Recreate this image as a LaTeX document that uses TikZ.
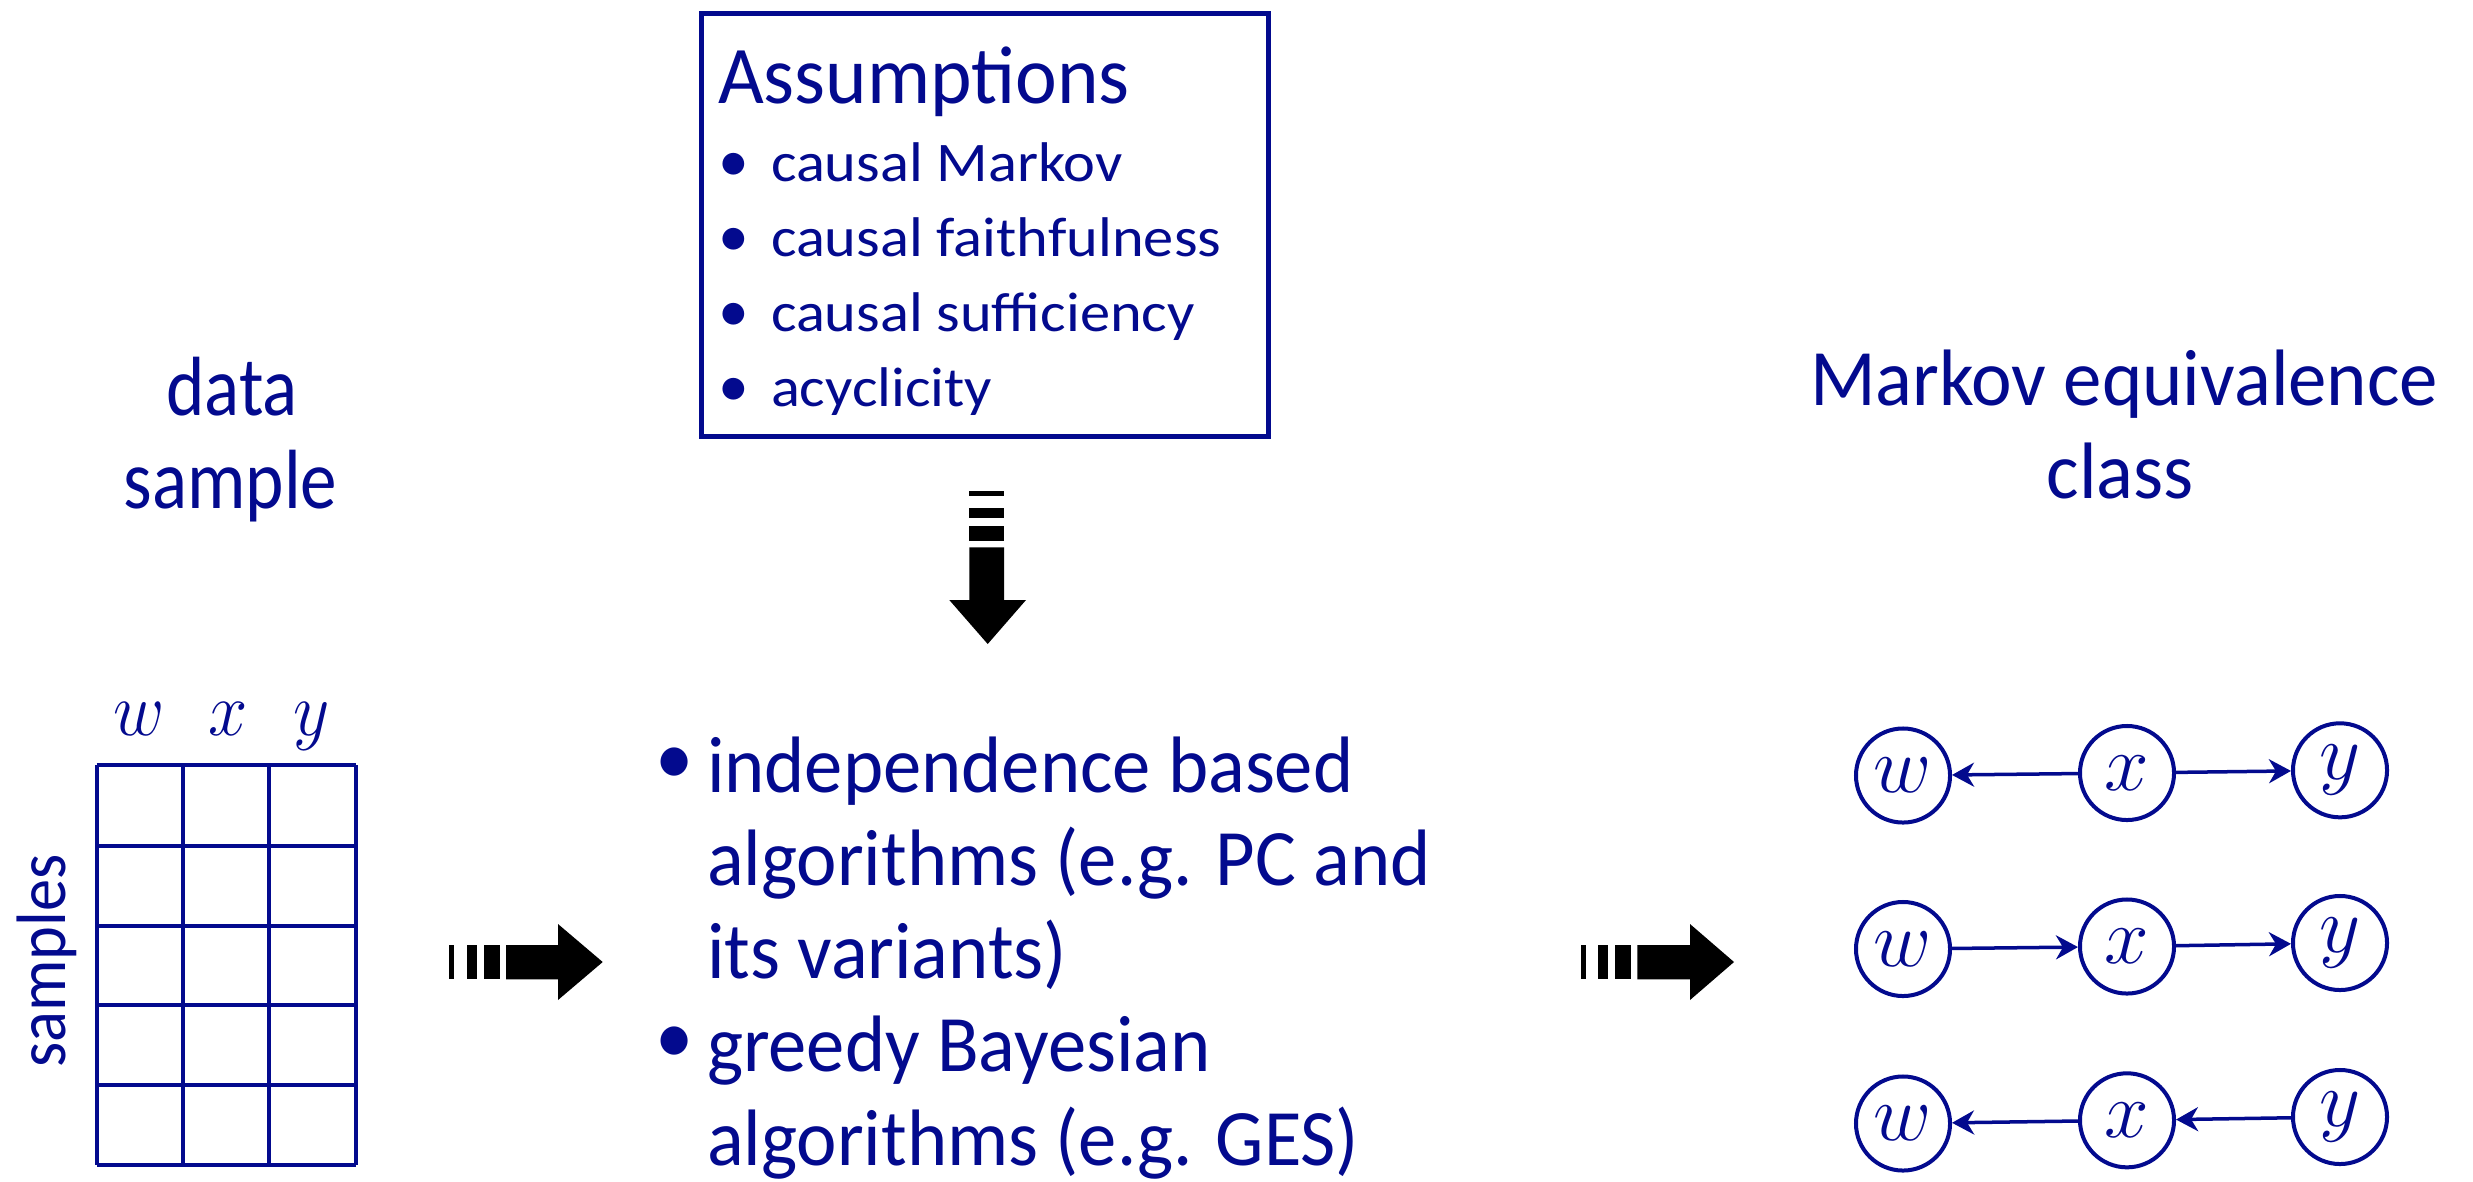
\RequirePackage{fix-cm}
\documentclass[tikz,border=0pt]{standalone}
\usepackage{fontspec}
\setmainfont{Carlito}
\newfontfamily\fAssum[FakeStretch=0.965]{Carlito}
\newfontfamily\fBox[FakeStretch=1.08]{Carlito}
\newfontfamily\fAlgo[FakeStretch=0.957]{Carlito}
\newfontfamily\fMark[FakeStretch=0.96]{Carlito}
\newfontfamily\fData[FakeStretch=0.87]{Carlito}
\newfontfamily\fSamp[FakeStretch=0.92]{Carlito}
\usetikzlibrary{arrows.meta,shapes.geometric}
\definecolor{slideblue}{RGB}{3,10,142}
\begin{document}
\begin{tikzpicture}[x=0.01cm,y=-0.01cm,
  txt/.style={inner sep=0pt, outer sep=0pt, text=slideblue, anchor=base west},
  ctxt/.style={inner sep=0pt, outer sep=0pt, text=slideblue, anchor=base},
  gnode/.style={circle, draw=slideblue, line width=0.04cm, minimum size=0.94cm,
    inner sep=0pt, text=slideblue, font=\fontsize{22.76pt}{26pt}\selectfont},
  gedge/.style={draw=slideblue, line width=0.035cm,
    -{Stealth[length=0.22cm,width=0.24cm,inset=0.07cm]}},
  gridline/.style={draw=slideblue, line width=0.043cm},
  blockarrow/.style={fill=black, draw=none},
  boxfont/.style={font=\fBox\fontsize{15.9pt}{19pt}\selectfont},
  boxbullet/.style={font=\fontsize{17.5pt}{19pt}\selectfont},
  algofont/.style={font=\fAlgo\fontsize{22.76pt}{26pt}\selectfont},
  bigfont/.style={font=\fMark\fontsize{22.76pt}{26pt}\selectfont}
]
\useasboundingbox (0,0) rectangle (2473,1181);

% ---- data sample ----
\node[ctxt, font=\fData\fontsize{23.9pt}{28pt}\selectfont] (data) at (232,415) {data};
\node[ctxt, font=\fData\fontsize{23.9pt}{28pt}\selectfont] (sample) at (230.5,508) {sample};

% column labels
\node[ctxt, font=\fontsize{21.8pt}{26pt}\selectfont] (lw) at (139,735) {\scalebox{0.92}[1]{$w$}};
\node[ctxt, font=\fontsize{21.8pt}{26pt}\selectfont] (lx) at (228.5,735) {\scalebox{0.92}[1]{$x$}};
\node[ctxt, font=\fontsize{21.8pt}{26pt}\selectfont] (ly) at (312,735) {\scalebox{0.92}[1]{$y$}};

% grid
\foreach \gx in {96.7,182.7,269.3,356}
  \draw[gridline] (\gx,765.3) -- (\gx,1165);
\foreach \gy in {765.3,845.7,925.7,1005,1085,1165}
  \draw[gridline] (96.7,\gy) -- (356,\gy);
\node[ctxt, rotate=90, font=\fSamp\fontsize{19.9pt}{24pt}\selectfont] (samples) at (65,960.8) {samples};

% ---- assumptions box ----
\node[draw=slideblue, line width=0.05cm, minimum width=5.668cm, minimum height=4.234cm,
  inner sep=0pt] (box) at (985,225) {};
\node[txt, font=\fAssum\fontsize{23.3pt}{26pt}\selectfont] (assum) at (718,103) {Assumptions};
\node[ctxt, boxbullet] (b1) at (733.6,181.7) {•};
\node[txt, boxfont] (a1) at (771,181.7) {causal Markov};
\node[ctxt, boxbullet] (b2) at (733.6,256.7) {•};
\node[txt, boxfont] (a2) at (771,256.7) {causal faithfulness};
\node[ctxt, boxbullet] (b3) at (733.6,331.7) {•};
\node[txt, boxfont] (a3) at (771,331.7) {causal sufficiency};
\node[ctxt, boxbullet] (b4) at (733.6,406) {•};
\node[txt, boxfont] (a4) at (771,406) {acyclicity};

% down block arrow
\fill[blockarrow] (969.3,491) rectangle (1004,496);
\fill[blockarrow] (969.3,508.3) rectangle (1004,518.3);
\fill[blockarrow] (969.3,526) rectangle (1004,541);
\fill[blockarrow] (969.3,547.3) -- (1004,547.3) -- (1004,600) -- (1026,600)
  -- (987.7,644) -- (949.3,600) -- (969.3,600) -- cycle;

% ---- algorithms ----
\node[ctxt, algofont] (c1) at (675,784.7) {•};
\node[txt, algofont] (g1) at (707,792.7) {independence based};
\node[txt, algofont] (g2) at (707,885) {algorithms (e.g. PC and};
\node[txt, algofont] (g3) at (707,978) {its variants)};
\node[ctxt, algofont] (c2) at (675,1063.7) {•};
\node[txt, algofont] (g4) at (707,1071.7) {greedy Bayesian};
\node[txt, algofont] (g5) at (707,1165) {algorithms (e.g. GES)};

% left block arrow
\fill[blockarrow] (449.3,945) rectangle (454,979.3);
\fill[blockarrow] (466.7,945) rectangle (476.7,979.3);
\fill[blockarrow] (484,945) rectangle (500,979.3);
\fill[blockarrow] (506,945) -- (558,945) -- (558,924) -- (602.7,962)
  -- (558,1000) -- (558,979.3) -- (506,979.3) -- cycle;

% right block arrow
\fill[blockarrow] (1580.7,945) rectangle (1586,979.3);
\fill[blockarrow] (1598.3,945) rectangle (1608.3,979.3);
\fill[blockarrow] (1615.3,945) rectangle (1631,979.3);
\fill[blockarrow] (1637.3,945) -- (1690,945) -- (1690,924) -- (1734,962)
  -- (1690,1000) -- (1690,979.3) -- (1637.3,979.3) -- cycle;

% ---- Markov equivalence class ----
\node[ctxt, bigfont] (meq) at (2124,405) {Markov equivalence};
\node[ctxt, bigfont] (mcl) at (2120,498) {class};

% graphs
\node[gnode] (w1) at (1903,775.5) {$w$};
\node[gnode] (x1) at (2127,773) {$x$};
\node[gnode] (y1) at (2340,770.3) {$y$};
\node[gnode] (w2) at (1903,949) {$w$};
\node[gnode] (x2) at (2127,946.5) {$x$};
\node[gnode] (y2) at (2340,943) {$y$};
\node[gnode] (w3) at (1903,1123.5) {$w$};
\node[gnode] (x3) at (2127,1120.3) {$x$};
\node[gnode] (y3) at (2340,1117) {$y$};

\draw[gedge] (x1) -- (w1);
\draw[gedge] (x1) -- (y1);
\draw[gedge] (w2) -- (x2);
\draw[gedge] (x2) -- (y2);
\draw[gedge] (x3) -- (w3);
\draw[gedge] (y3) -- (x3);
\end{tikzpicture}
\end{document}
